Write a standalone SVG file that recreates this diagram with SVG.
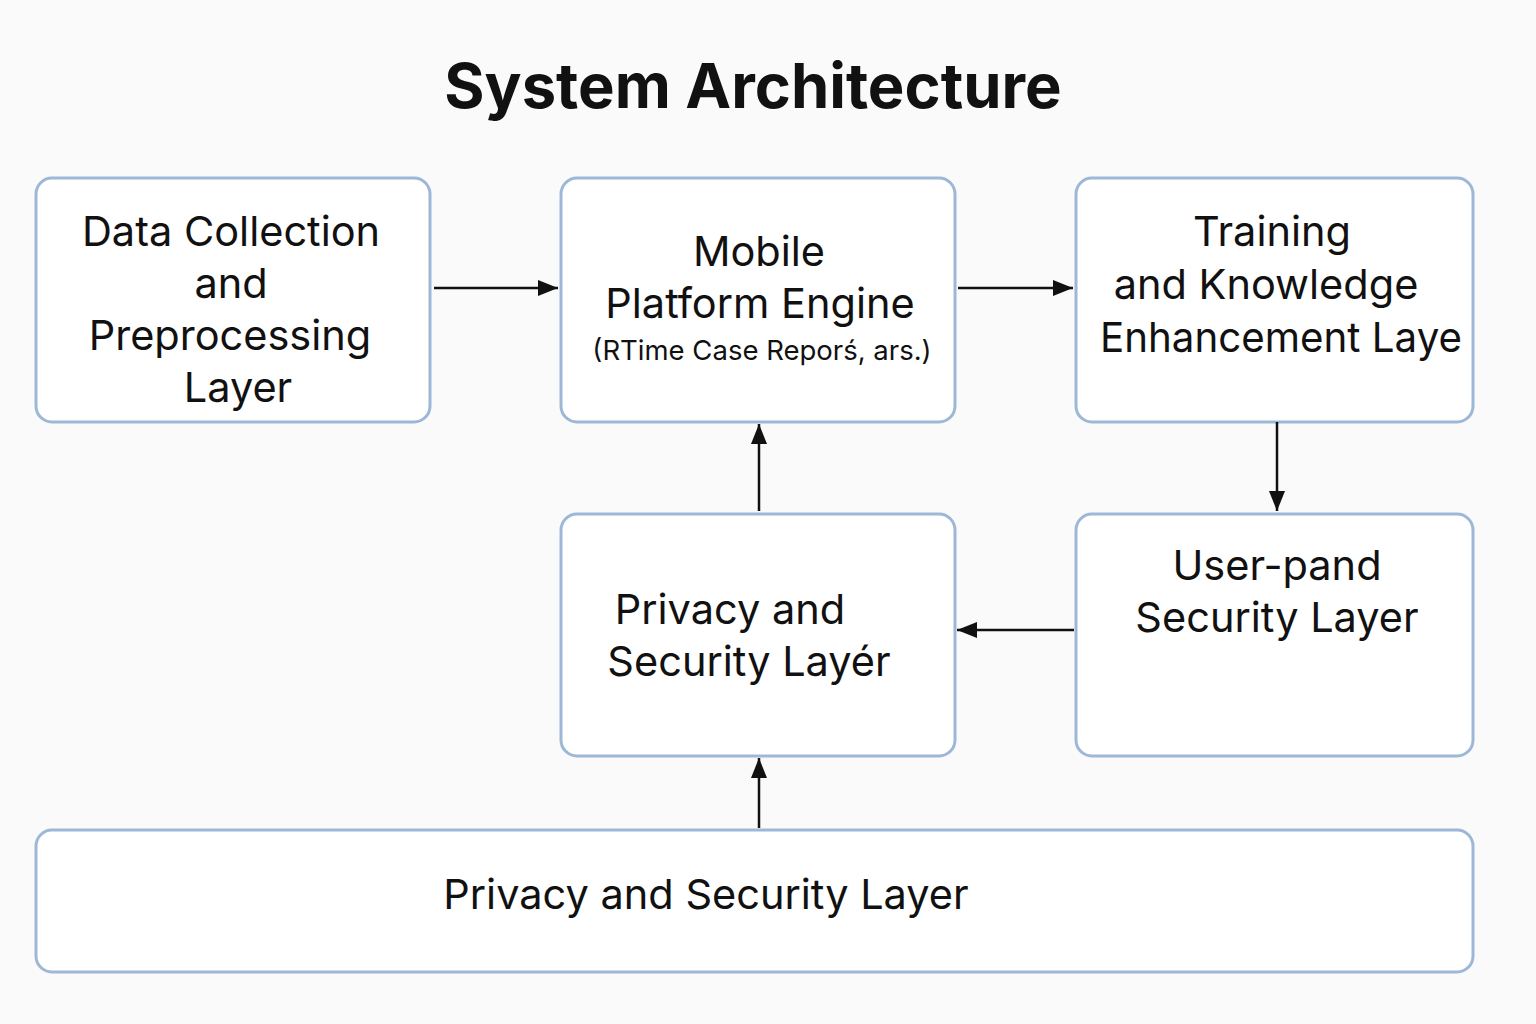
<svg xmlns="http://www.w3.org/2000/svg" width="1536" height="1024" viewBox="0 0 1536 1024">
<style>
.box{fill:#ffffff;stroke:#9db7d6;stroke-width:3}
.t{font-family:Inter,"Noto Sans","Liberation Sans",sans-serif;font-size:41.5px;fill:#111;text-anchor:middle}
.s{font-size:27.5px}
.title{font-family:Inter,"Noto Sans","Liberation Sans",sans-serif;font-size:61.5px;font-weight:700;fill:#111;text-anchor:middle}
.c{stroke:#111;stroke-width:2.5;fill:none;marker-end:url(#ah)}
</style>
<defs>
<marker id="ah" markerWidth="20" markerHeight="16" refX="20" refY="8" orient="auto" markerUnits="userSpaceOnUse" viewBox="0 0 20 16">
<path d="M0,0 L20,8 L0,16 z" fill="#111"/>
</marker>
</defs>
<rect width="1536" height="1024" fill="#fafafa"/>
<text class="title" x="753" y="108">System Architecture</text>
<g id="n1"><rect class="box" x="36" y="178" width="394" height="244" rx="16"/>
<text class="t" x="231" y="246">Data Collection</text><text class="t" x="231" y="298">and</text><text class="t" x="230" y="350">Preprocessing</text><text class="t" x="238" y="402">Layer</text></g>
<g id="n2"><rect class="box" x="561" y="178" width="394" height="244" rx="16"/>
<text class="t" x="759" y="266">Mobile</text><text class="t" x="760" y="318">Platform Engine</text><text class="t s" x="762" y="360">(RTime  Case Reporś, ars.)</text></g>
<g id="n3"><rect class="box" x="1076" y="178" width="397" height="244" rx="16"/>
<text class="t" x="1272" y="246">Training</text><text class="t" x="1266" y="299">and Knowledge</text><text class="t" x="1281" y="352" textLength="362" lengthAdjust="spacingAndGlyphs">Enhancement Laye</text></g>
<g id="n4"><rect class="box" x="561" y="514" width="394" height="242" rx="16"/>
<text class="t" x="730" y="624">Privacy and</text><text class="t" x="749" y="676">Security Layér</text></g>
<g id="n5"><rect class="box" x="1076" y="514" width="397" height="242" rx="16"/>
<text class="t" x="1277" y="580">User-pand</text><text class="t" x="1277" y="632">Security Layer</text></g>
<g id="n6"><rect class="box" x="36" y="830" width="1437" height="142" rx="16"/>
<text class="t" x="706" y="909">Privacy and Security Layer</text></g>
<g id="connectors">
<path class="c" d="M434,288 H558"/>
<path class="c" d="M958,288 H1073"/>
<path class="c" d="M1277,422 V511"/>
<path class="c" d="M1074,630 H957"/>
<path class="c" d="M759,511 V424"/>
<path class="c" d="M759,828 V758"/>
</g>
</svg>
